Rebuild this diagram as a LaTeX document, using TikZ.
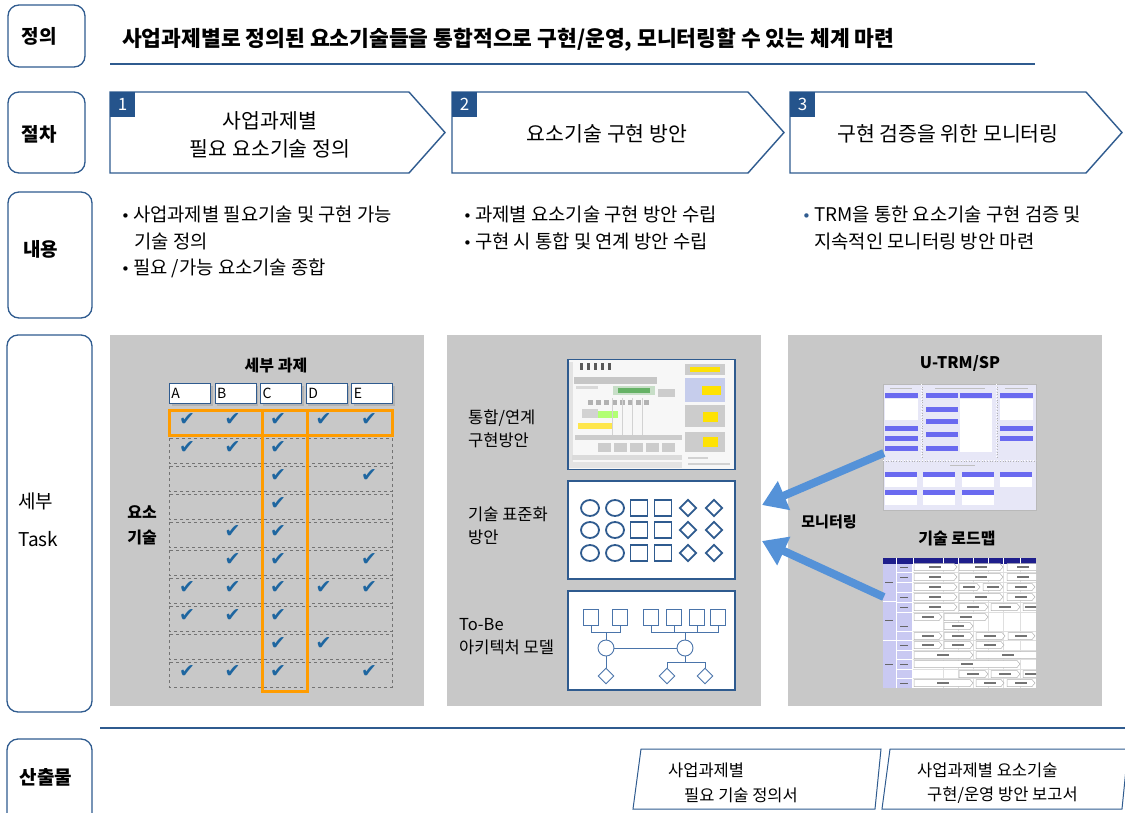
\documentclass[tikz,border=0pt]{standalone}
\usepackage{fontspec}
\setmainfont{Noto Sans CJK KR}
\newfontfamily\dejavu{DejaVu Sans}
\usetikzlibrary{arrows.meta,shapes.geometric,calc}

\definecolor{frameblue}{HTML}{2F5B8F}
\definecolor{numblue}{HTML}{25548C}
\definecolor{panelgray}{HTML}{C8C8C8}
\definecolor{checkblue}{HTML}{1E66A0}
\definecolor{hilite}{HTML}{FF9C00}
\definecolor{arrowblue}{HTML}{5592D8}
\definecolor{lavbg}{HTML}{E7E7F7}
\definecolor{barviolet}{HTML}{6A6AF0}
\definecolor{rmnavy}{HTML}{1E1E8C}
\definecolor{rmside}{HTML}{C9C9F2}
\definecolor{archline}{HTML}{4A74AA}

\newcommand\fsz[2]{\fontsize{#1}{#2}\selectfont}

\begin{document}
\begin{tikzpicture}[x=1pt,y=-1pt,
  tagbox/.style={draw=frameblue,line width=1.3pt,rounded corners=11pt,fill=white,inner sep=0pt},
  tagtext/.style={inner sep=0pt,font={\fsz{19}{22}\bfseries}},
  tagplain/.style={inner sep=0pt,anchor=west,font={\fsz{19}{22}}},
  stepframe/.style={draw=frameblue,line width=1.4pt,fill=white},
  numbox/.style={fill=numblue,text=white,minimum width=25,minimum height=25,inner sep=0pt,font={\fsz{17}{20}}},
  steptext/.style={inner sep=0pt,font={\fsz{20.5}{28}},align=center},
  bodytext/.style={inner sep=0pt,anchor=west,font={\fsz{18.8}{22}}},
  panel/.style={fill=panelgray},
  paneltitle/.style={inner sep=0pt,font={\fsz{16}{20}\bfseries}},
  sidetext/.style={inner sep=0pt,anchor=west,align=left,font={\fsz{16.5}{23}}},
  hdrbox/.style={draw=frameblue,line width=0.9pt,fill=white,minimum width=41,minimum height=20,
                 inner sep=0pt,anchor=north west,font={\fsz{14}{16}},text width=37,align=left},
  rowbox/.style={draw=gray!90!black,dashed,line width=0.8pt},
  hiframe/.style={draw=hilite,line width=3pt},
  chk/.style={inner sep=0pt,text=checkblue,font={\dejavu\fsz{19}{20}}},
  shapebox/.style={draw=frameblue,line width=2.4pt,fill=white},
  stdshape/.style={draw=frameblue,line width=1.8pt,inner sep=0pt},
  archnode/.style={draw=archline,line width=0.9pt,fill=white,inner sep=0pt},
  archwire/.style={draw=archline,line width=0.9pt},
  monarrow/.style={draw=arrowblue,line width=8pt,-{Triangle[width=30pt,length=24pt]}},
  vbar/.style={fill=barviolet},
  rmbar/.style={draw=gray!60,fill=white,line width=0.5pt},
  outframe/.style={draw=frameblue,line width=1pt,fill=white},
  outtext/.style={inner sep=0pt,anchor=west,font={\fsz{16.5}{20}}}
]
\useasboundingbox (0,0) rectangle (1125,812);
\fill[white] (0,0) rectangle (1125,812);

% ---------- row tags on the left
\node[tagbox,minimum width=77,minimum height=62] (tagdef) at (46.5,36) {};
\node[tagtext] (tagdef-t) at (39,36) {정의};
\node[tagbox,minimum width=77,minimum height=81] (tagproc) at (46.5,132.5) {};
\node[tagtext] (tagproc-t) at (39,134) {절차};
\node[tagbox,minimum width=84,minimum height=126] (tagcont) at (50,255) {};
\node[tagtext] (tagcont-t) at (41,249) {내용};
\node[tagbox,minimum width=85,minimum height=377] (tagtask) at (49.5,523.5) {};
\node[tagplain] (tagtask-a) at (18,501) {세부};
\node[tagplain] (tagtask-b) at (18,539) {Task};
\node[tagbox,minimum width=85,minimum height=100] (tagout) at (49.5,789) {};
\node[tagtext] (tagout-t) at (46,777) {산출물};

% ---------- definition line
\node[inner sep=0pt,anchor=west,font={\fsz{21.5}{24}\bfseries}] (title) at (122,40)
  {사업과제별로 정의된 요소기술들을 통합적으로 구현/운영, 모니터링할 수 있는 체계 마련};
\draw[frameblue,line width=2pt] (110,64) -- (1035,64);

% ---------- procedure chevrons
\draw[stepframe] (110,92) -- (409,92) -- (445,132.5) -- (409,173) -- (110,173) -- cycle;
\draw[stepframe] (452,92) -- (748,92) -- (784,132.5) -- (748,173) -- (452,173) -- cycle;
\draw[stepframe] (790,92) -- (1086,92) -- (1122,132.5) -- (1086,173) -- (790,173) -- cycle;
\node[numbox] (num1) at (122.5,104.5) {1};
\node[numbox] (num2) at (464.5,104.5) {2};
\node[numbox] (num3) at (802.5,104.5) {3};
\node[steptext] (step1) at (270,135) {사업과제별\\필요 요소기술 정의};
\node[steptext] (step2) at (607,134) {요소기술 구현 방안};
\node[steptext] (step3) at (948,134) {구현 검증을 위한 모니터링};

% ---------- contents
\node[bodytext] (c1a) at (121,214) {{\dejavu\fsz{15}{18}•}\hspace{3pt}사업과제별 필요기술 및 구현 가능};
\node[bodytext] (c1b) at (134,241) {기술 정의};
\node[bodytext] (c1c) at (121,268) {{\dejavu\fsz{15}{18}•}\hspace{3pt}필요 /가능 요소기술 종합};
\node[bodytext] (c2a) at (463,214) {{\dejavu\fsz{15}{18}•}\hspace{3pt}과제별 요소기술 구현 방안 수립};
\node[bodytext] (c2b) at (463,241) {{\dejavu\fsz{15}{18}•}\hspace{3pt}구현 시 통합 및 연계 방안 수립};
\node[bodytext] (c3a) at (802,214) {{\dejavu\fsz{15}{18}\color{frameblue}•}\hspace{3pt}TRM을 통한 요소기술 구현 검증 및};
\node[bodytext] (c3b) at (814,241) {지속적인 모니터링 방안 마련};

% ---------- three gray task panels
\fill[panel] (110,335) rectangle (424,706);
\fill[panel] (447,335) rectangle (761,706);
\fill[panel] (788,335) rectangle (1102,706);

% panel 1: task / element technology matrix
\node[paneltitle] (mtitle) at (276,365) {세부 과제};
\foreach \l [count=\i from 0] in {A,B,C,D,E} {
  \fill[gray!60] ({171.5+\i*45.6},385.5) rectangle ({212.5+\i*45.6},405.5);
  \node[hdrbox] (hdr\l) at ({169+\i*45.6},383) {\l};
}
\node[inner sep=0pt,align=center,font={\fsz{16}{25}\bfseries}] (mside) at (142,525) {요소\\기술};
\foreach \r in {0,...,9}
  \draw[rowbox] (169,{410+\r*28}) rectangle (392,{435+\r*28});
\draw[hiframe] (169,410) rectangle (392,435);
\draw[hiframe] (262,410) rectangle (307,691);
\foreach \r/\cols in {0/{1,2,3,4,5},1/{1,2,3},2/{3,5},3/{3},4/{2,3},5/{2,3,5},6/{1,2,3,4,5},7/{1,2,3},8/{3,4},9/{1,2,3,5}} {
  \foreach \c in \cols {
    \node[chk] (chk-\r-\c) at ({141.5+\c*45.5},{419+\r*28}) {✔};
  }
}

% panel 2: integration screen, standardisation, to-be architecture
\node[sidetext] (lab-int) at (468,428.5) {통합/연계\\구현방안};
\node[sidetext] (lab-std) at (468,526) {기술 표준화\\방안};
\node[sidetext] (lab-arch) at (459,637) {To-Be\\아키텍처 모델};

% integration screen capture
\fill[gray!6] (568,360) rectangle (735,470);
\fill[gray!22] (569,362) rectangle (573,468);
\foreach \x in {580,587,594,601,608} \fill[black!65] (\x,363) rectangle (\x+3,370);
\fill[gray!45] (574,377) rectangle (657,384);
\fill[gray!30] (576,386) rectangle (598,389);
\fill[green!25!gray!35] (613,386) rectangle (655,395);
\fill[green!50!black!60] (618,388) rectangle (650,393);
\fill[gray!40] (658,389) rectangle (675,397);
\foreach \x in {588,596,604,612,620,628,636,644} \fill[gray!60] (\x,400) rectangle (\x+5,405);
\fill[gray!35] (582,409) rectangle (598,418);
\fill[green!55!yellow!55] (598,411) rectangle (618,418);
\fill[yellow!80!orange!70] (578,423) rectangle (612,429);
\foreach \x in {612,622,632,642} \draw[gray!35,line width=0.4pt] (\x,398) -- (\x,440);
\fill[gray!40] (575,435) rectangle (682,440);
\foreach \x in {598,614,630,646,662} \fill[gray!40] (\x,443) rectangle (\x+13,452);
\fill[gray!28] (572,455) rectangle (682,460);
\fill[gray!22] (572,462) rectangle (682,468);
\fill[gray!40] (685,364) rectangle (725,375);
\fill[yellow!85!orange] (690,367) rectangle (720,372);
\fill[cyan!35!blue!22] (685,378) rectangle (725,402);
\fill[yellow!85!orange] (702,386) rectangle (721,395);
\fill[gray!40] (685,405) rectangle (725,427);
\fill[yellow!85!orange] (703,412) rectangle (718,422);
\fill[gray!40] (685,432) rectangle (725,452);
\fill[yellow!85!orange] (703,437) rectangle (718,447);
\fill[gray!35] (688,457) rectangle (708,459);
\fill[gray!35] (688,463) rectangle (730,465);
\node[draw=frameblue,line width=1.5pt,minimum width=167,minimum height=110,inner sep=0pt] (scr) at (651.5,414.5) {};

% standardisation box
\node[shapebox,minimum width=167,minimum height=98,inner sep=0pt] (std) at (651.5,530) {};
\foreach \yy [count=\k] in {508,530,553} {
  \node[stdshape,ellipse,minimum width=18,minimum height=16] (sc1-\k) at (590,\yy) {};
  \node[stdshape,ellipse,minimum width=18,minimum height=16] (sc2-\k) at (615,\yy) {};
  \node[stdshape,rectangle,minimum width=17,minimum height=16] (sq1-\k) at (639,\yy) {};
  \node[stdshape,rectangle,minimum width=17,minimum height=16] (sq2-\k) at (663,\yy) {};
  \node[stdshape,diamond,minimum width=17,minimum height=17] (sd1-\k) at (688,\yy) {};
  \node[stdshape,diamond,minimum width=17,minimum height=17] (sd2-\k) at (714,\yy) {};
}

% to-be architecture box
\node[shapebox,minimum width=167,minimum height=99,inner sep=0pt] (arch) at (651.5,640.5) {};
\foreach \xx [count=\k] in {591,620,651,674,697,718}
  \node[archnode,minimum width=15,minimum height=16] (a\k) at (\xx,617) {};
\node[archnode,circle,minimum size=16] (h1) at (606,648) {};
\node[archnode,circle,minimum size=16] (h2) at (685,648) {};
\node[archnode,diamond,minimum width=16,minimum height=16] (d1) at (606,676) {};
\node[archnode,diamond,minimum width=16,minimum height=16] (d2) at (667,676) {};
\node[archnode,diamond,minimum width=16,minimum height=16] (d3) at (705,676) {};
\draw[archwire] (a1.south) -- ++(0,7) -| (a2.south);
\draw[archwire] (h1.north) -- ++(0,-8);
\draw[archwire] (a3.south) -- ++(0,7) -| (a6.south);
\draw[archwire] (a4.south) -- ++(0,7);
\draw[archwire] (a5.south) -- ++(0,7);
\draw[archwire] (h2.north) -- ++(0,-8);
\draw[archwire] (h1) -- (h2);
\draw[archwire] (h1) -- (d1);
\draw[archwire] (h2.south) -- ++(0,6) -| (d2.north);
\draw[archwire] (h2.south) ++(0,6) -| (d3.north);

% panel 3: monitoring sources
\node[paneltitle] (trmtitle) at (960,363) {U-TRM/SP};
\node[paneltitle,font={\fsz{15}{18}\bfseries}] (monlabel) at (829,522) {모니터링};
\node[paneltitle] (rmtitle) at (957,538) {기술 로드맵};

% U-TRM/SP screen
\fill[lavbg] (883,384) rectangle (1036,510);
\draw[gray!55,line width=0.4pt] (883,384) rectangle (1036,510);
\draw[white,line width=1pt,dotted] (921,384) -- (921,458) (996,384) -- (996,458) (883,460) -- (1036,460);
\draw[gray!60,line width=0.6pt,dotted] (922,384) -- (922,458) (997,384) -- (997,458) (883,461) -- (1036,461);
\foreach \xa/\xb in {890/912,935/985,1005/1028} \fill[gray!50] (\xa,388) rectangle (\xb,389.2);
\foreach \yy in {393,426,436,446} \fill[vbar] (885,\yy) rectangle (918,\yy+5);
\fill[white] (885,399) rectangle (918,420);
\foreach \yy in {393,407,419,432,446} \fill[vbar] (926,\yy) rectangle (958,\yy+5);
\fill[vbar] (960,393) rectangle (992,398);
\fill[white] (960,398.5) rectangle (992,452);
\foreach \yy in {393,426,436} \fill[vbar] (1000,\yy) rectangle (1033,\yy+5);
\fill[white] (1000,399) rectangle (1033,420);
\fill[gray!50] (950,465) rectangle (975,466.2);
\foreach \xx in {885,923,962,1000} {
  \fill[vbar] (\xx,472) rectangle (\xx+32,477);
  \fill[white] (\xx,477) rectangle (\xx+32,487);
}
\foreach \xx in {885,923,962} {
  \fill[vbar] (\xx,490) rectangle (\xx+32,495);
  \fill[white] (\xx,495) rectangle (\xx+32,505);
}
\node[minimum width=153,minimum height=126,inner sep=0pt] (utrm) at (959.5,447) {};

% technology roadmap sheet
\fill[white] (883,558) rectangle (1036,688);
\fill[rmnavy] (883,558) rectangle (1036,563.5);
\foreach \xx in {896,913,943,958,973,988,1003,1020} \draw[white,line width=0.6pt] (\xx,558) -- (\xx,563.5);
\fill[rmside] (883,563.5) rectangle (895.5,688);
\fill[rmside] (896.5,563.5) rectangle (912,688);
\foreach \yy in {601,640} \draw[white,line width=1pt] (883,\yy) -- (895.5,\yy);
\foreach \yy in {572,582,592,602,612,631,640,650,659,669,678} {
  \draw[white,line width=0.8pt] (896.5,\yy) -- (912,\yy);
  \draw[gray!25,line width=0.4pt] (913,\yy) -- (1036,\yy);
}
\foreach \xx in {943,958,973,988,1003,1020} \draw[gray!25,line width=0.4pt] (\xx,563.5) -- (\xx,688);
\foreach \yy in {582,620,664} \fill[black!60] (885,\yy) rectangle (893,\yy+1.2);
\foreach \yy in {567,577,597,607,626,645,664,683} \fill[black!60] (900,\yy) rectangle (908,\yy+1.2);
\begin{scope}
  \clip (883,558) rectangle (1036,688);
  \foreach \a/\b/\y in {913/957/567,958/1003/567,1006/1040/567,
                        913/957/577,958/1003/577,1006/1040/577,
                        913/957/587,958/980/587,982/1003/587,1006/1035/587,
                        913/957/597,958/1003/597,1006/1035/597,
                        913/957/607,958/988/607,990/1020/607,1022/1040/607,
                        913/942/617,943/988/617,
                        943/973/626,
                        913/942/636,943/973/636,975/1005/636,1007/1035/636,
                        913/942/645,943/973/645,975/1004/645,
                        913/973/655,975/1040/655,
                        913/1020/664,
                        958/988/674,990/1020/674,1022/1040/674,
                        913/973/683,975/1004/683,1006/1035/683} {
    \draw[rmbar] (\a+1,\y-3.5) -- (\b-3,\y-3.5) -- (\b,\y) -- (\b-3,\y+3.5) -- (\a+1,\y+3.5) -- cycle;
    \fill[black!55] ({(\a+\b)/2-6},\y-0.6) rectangle ({(\a+\b)/2+6},\y+0.6);
  }
\end{scope}
\node[minimum width=153,minimum height=130,inner sep=0pt] (roadmap) at (959.5,623) {};

% monitoring arrows toward the standardisation plan
\coordinate (tipA) at (762,505);
\coordinate (tipB) at (762,541);
\draw[monarrow] ($(utrm.west)+(1,6)$) -- (tipA);
\draw[monarrow] ($(roadmap.west)+(1,-26)$) -- (tipB);

% ---------- deliverables
\draw[frameblue,line width=2pt] (100,728) -- (1125,728);
\draw[outframe] (641,749) -- (881,749) -- (875,809) -- (633,809) -- cycle;
\draw[outframe] (890,749) -- (1128,749) -- (1122,809) -- (882,809) -- cycle;
\node[outtext] (out1a) at (668,770) {사업과제별};
\node[outtext] (out1b) at (684,795) {필요 기술 정의서};
\node[outtext] (out2a) at (917,770) {사업과제별 요소기술};
\node[outtext] (out2b) at (927,795) {구현/운영 방안 보고서};
\end{tikzpicture}
\end{document}
